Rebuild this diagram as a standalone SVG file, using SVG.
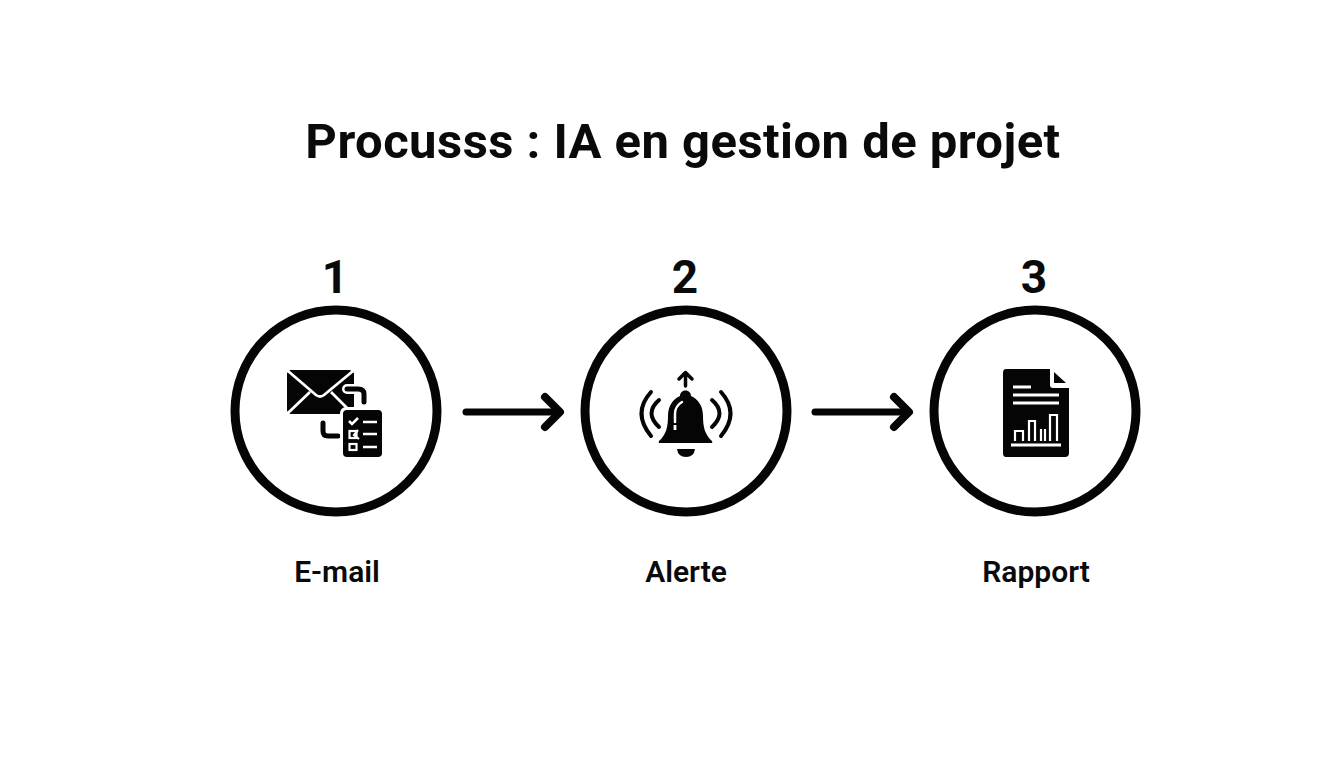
<svg xmlns="http://www.w3.org/2000/svg" width="1344" height="768" viewBox="0 0 1344 768">
<style>
text{font-family:Roboto,"Liberation Sans",sans-serif;font-weight:700;fill:#0a0a0a;text-anchor:middle}
.title{font-size:49px;letter-spacing:.45px}
.num{font-size:46px}
.lab{font-size:30px;font-weight:600}
.ring{fill:#fff;stroke:#050505;stroke-width:9}
.k{fill:#050505}
.ks{fill:none;stroke:#050505;stroke-linecap:round;stroke-linejoin:round}
.ws{fill:none;stroke:#fff}
.halo{fill:none;stroke:#fff;stroke-linecap:round;stroke-linejoin:round}
.shaft{fill:none;stroke:#050505;stroke-width:7;stroke-linecap:round}
.head{fill:none;stroke:#050505;stroke-width:8;stroke-linecap:round;stroke-linejoin:round}
</style>
<rect width="1344" height="768" fill="#fff"/>
<text id="title" class="title" x="683" y="158">Procusss : IA en gestion de projet</text>
<g id="connectors">
<path class="shaft" d="M466 412H558"/>
<path class="head" d="M545 397L560 412L545 427"/>
<path class="shaft" d="M815 412H907"/>
<path class="head" d="M894 397L909 412L894 427"/>
</g>
<g id="node-1">
<text class="num" x="335" y="293">1</text>
<circle class="ring" cx="336" cy="411" r="101"/>
<path class="k" d="M290 370H350L354 373V411L351 414H290L287 411V373Z"/>
<path class="ws" stroke-width="2.800" d="M288 371L316 395Q320 398 324 395L353 371M288 413L310 392M352 413L331 392"/>
<path class="halo" stroke-width="10" d="M347 389H358Q364 389 364 394V402"/>
<path class="ks" stroke-width="5" d="M347 389H358Q364 389 364 394V402"/>
<path class="ks" stroke-width="5" d="M323 423V431Q323 436 328 436H338"/>
<rect x="340" y="407" width="45" height="53" rx="6" fill="#fff"/>
<rect class="k" x="343" y="410" width="39" height="47" rx="4"/>
<path class="ws" stroke-width="2.500" d="M349 421L352 424L358 418M363 422H377M363 434H377M363 447H377"/>
<rect class="ws" stroke-width="2.200" x="349.500" y="431" width="7" height="7"/>
<rect class="ws" stroke-width="2.200" x="349.500" y="444" width="7" height="6"/>
<path class="ws" stroke-width="2.200" d="M358 430L354 435L359 439"/>
<text class="lab" x="337" y="582">E-mail</text>
</g>
<g id="node-2">
<text class="num" x="685" y="293">2</text>
<circle class="ring" cx="686" cy="411" r="101"/>
<path class="ks" stroke-width="3.500" d="M685.500 386V373M679 379L685.500 372.500L692 379"/>
<path class="k" d="M685.500 390.500C689 390.500 691 393 691 396C698 399 703 406 703 416C703 427 705 435 712 441Q713 443 711 443H660Q658 443 659 441C666 435 668 427 668 416C668 406 673 399 680 396C680 393 682 390.500 685.500 390.500Z"/>
<path class="ws" stroke-width="2.500" stroke-linecap="round" d="M675 422V414Q675 406 682 402"/>
<path class="ws" stroke-width="2.800" d="M675 425V430"/>
<path class="k" d="M677 449H695Q694 457 686 457Q678 457 677 449Z"/>
<path class="ks" stroke-width="4" d="M659 400Q644 413 659 427M651 392Q632 413 651 436M712 400Q727 413 712 427M721 392Q740 413 721 436"/>
<text class="lab" x="686" y="582">Alerte</text>
</g>
<g id="node-3">
<text class="num" x="1034" y="293">3</text>
<circle class="ring" cx="1035" cy="411" r="101"/>
<path class="k" d="M1006 369H1050V385Q1050 388 1053 388H1069V453Q1069 457 1065 457H1006Q1003 457 1003 453V373Q1003 369 1006 369Z"/>
<path class="k" d="M1054 372L1066 383H1054Z"/>
<path class="ws" stroke-width="2.800" d="M1013 387H1031M1013 395H1059M1013 403H1059"/>
<path class="ws" stroke-width="2.800" d="M1011 445H1061"/>
<path class="ws" stroke-width="2.200" d="M1015 441V431H1023V441M1029 441V421H1035V441M1041 441V429M1045 441V429M1050 441V415H1057V441"/>
<text class="lab" x="1036" y="582">Rapport</text>
</g>
</svg>
